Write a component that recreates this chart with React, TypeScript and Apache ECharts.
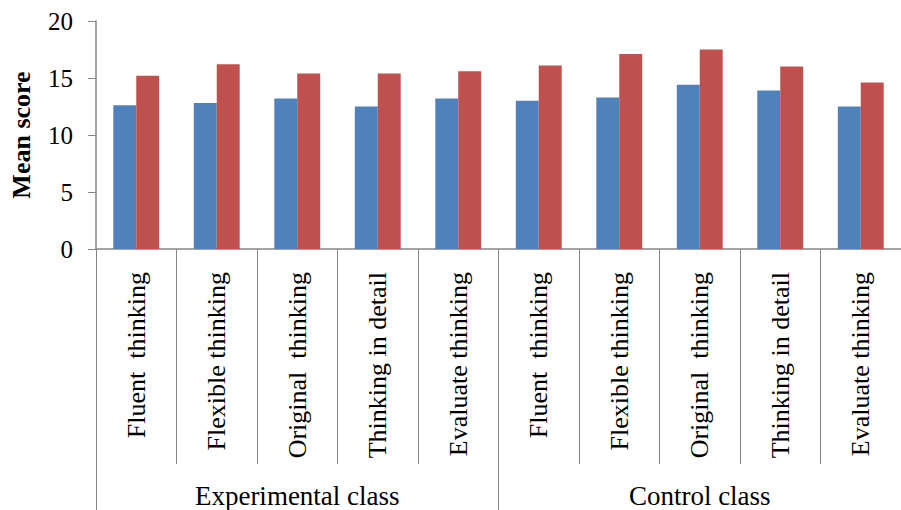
import React, { useEffect, useRef } from "react";
import * as echarts from "echarts";

const categories = [
  "Fluent  thinking",
  "Flexible thinking",
  "Original  thinking",
  "Thinking in detail",
  "Evaluate thinking",
  "Fluent  thinking",
  "Flexible thinking",
  "Original  thinking",
  "Thinking in detail",
  "Evaluate thinking",
];
const groups = ["Experimental class", "Control class"];
const blueValues = [12.6, 12.8, 13.2, 12.5, 13.2, 13.0, 13.3, 14.4, 13.9, 12.5];
const redValues = [15.2, 16.2, 15.4, 15.4, 15.6, 16.1, 17.1, 17.5, 16.0, 14.6];
const yTicks = [0, 5, 10, 15, 20];

export default function App() {
  const ref = useRef<HTMLDivElement>(null);
  useEffect(() => {
    if (!ref.current) return;
    const chart = echarts.init(ref.current, null, { renderer: "svg" });
    const font = "'Liberation Serif', 'Times New Roman', Times, serif";
    chart.setOption({
      animation: false,
      textStyle: { fontFamily: font },
      grid: { left: 95, top: 21, width: 820, height: 228, containLabel: false },
      xAxis: [
        {
          type: "category",
          data: categories,
          position: "bottom",
          axisLine: { lineStyle: { color: "#868686", width: 1.5 } },
          axisTick: { show: true, length: 215, lineStyle: { color: "#868686", width: 1 } },
          axisLabel: {
            rotate: 90,
            interval: 0,
            margin: 23,
            fontFamily: font,
            fontSize: 26,
            color: "#000",
          },
        },
        {
          type: "category",
          data: groups,
          position: "bottom",
          axisLine: { show: false },
          axisTick: { show: true, length: 262, lineStyle: { color: "#868686", width: 1 } },
          axisLabel: {
            interval: 0,
            margin: 233,
            fontFamily: font,
            fontSize: 27,
            color: "#000",
          },
        },
      ],
      yAxis: {
        type: "value",
        min: yTicks[0],
        max: yTicks[yTicks.length - 1],
        interval: 5,
        name: "Mean score",
        nameLocation: "middle",
        nameGap: 62,
        nameTextStyle: { fontFamily: font, fontSize: 26, fontWeight: "bold", color: "#000" },
        axisLine: { show: true, lineStyle: { color: "#868686", width: 1.5 } },
        axisTick: { show: true, length: 8, lineStyle: { color: "#868686" } },
        splitLine: { show: false },
        axisLabel: { margin: 23, fontFamily: font, fontSize: 25, color: "#000" },
      },
      series: [
        {
          type: "bar",
          data: blueValues,
          barGap: "0%",
          barCategoryGap: "43%",
          itemStyle: { color: "#4F81BD" },
        },
        {
          type: "bar",
          data: redValues,
          itemStyle: { color: "#C0504D" },
        },
      ],
    });
    return () => chart.dispose();
  }, []);
  return (
    <div
      ref={ref}
      style={{ position: "fixed", left: 0, top: 0, width: 901, height: 510, background: "#fff" }}
    />
  );
}
